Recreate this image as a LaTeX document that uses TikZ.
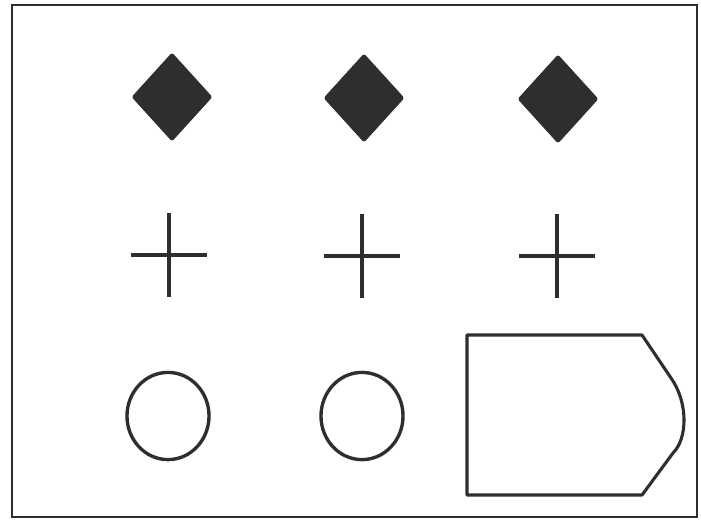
\documentclass[tikz,border=0pt]{standalone}
\usepackage{xcolor}
\usepackage{tikz}
\usetikzlibrary{shapes.geometric,positioning}
\definecolor{cInk}{HTML}{2E2E2E}
\tikzset{
  frame/.style={draw=cInk, line width=2pt},
  gem/.style={diamond, draw=cInk, fill=cInk, line width=0.6pt, rounded corners=1.5pt,
              inner sep=0pt, minimum width=2cm, minimum height=2.2cm},
  ring/.style={ellipse, draw=cInk, line width=2.4pt, inner sep=0pt,
               minimum width=2.05cm, minimum height=2.18cm},
  crossarm/.style={draw=cInk, line width=2.4pt},
  plate/.style={draw=cInk, line width=2.2pt, line join=round},
}
\begin{document}
\begin{tikzpicture}[x=0.025cm, y=-0.025cm]
  \useasboundingbox (0,0) rectangle (701,522);
  \draw[frame] (12,5) rectangle (697,517);

  \node[gem] (g1) at (172,97) {};
  \node[gem] (g2) at (364,98) {};
  \node[gem] (g3) at (558,99) {};

  \coordinate (c1) at (169,255);
  \coordinate (c2) at (362,256);
  \coordinate (c3) at (557,256);
  \foreach \c in {c1,c2,c3} {
    \draw[crossarm] ([xshift=-0.95cm]\c) -- ([xshift=0.95cm]\c);
    \draw[crossarm] ([yshift=1.05cm]\c) -- ([yshift=-1.05cm]\c);
  }

  \node[ring] (r1) at (168,416) {};
  \node[ring] (r2) at (362,416) {};

  \draw[plate] (467,335) -- (642,335) -- (671,378)
    .. controls (688,402) and (688,438) .. (673,453)
    -- (642,495) -- (467,495) -- cycle;
\end{tikzpicture}
\end{document}
